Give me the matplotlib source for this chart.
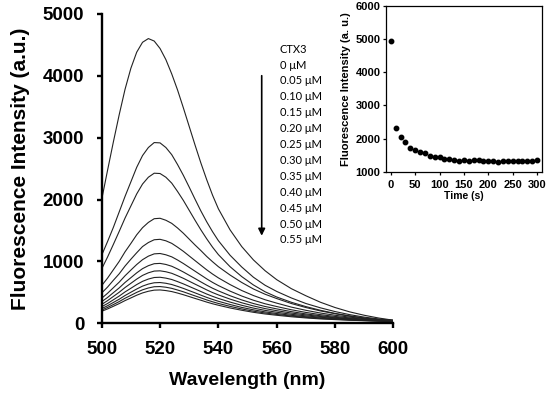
import numpy as np
import matplotlib
matplotlib.use("Agg")
import matplotlib.pyplot as plt

plt.rcParams["font.family"] = ["Liberation Sans", "DejaVu Sans"]

# emission spectra, one row per CTX3 concentration
wavelength = [500, 502, 504, 506, 508, 510, 512, 514, 516, 518, 520, 522,
              524, 526, 528, 530, 532, 534, 536, 538, 540, 544, 548, 552,
              556, 560, 565, 570, 575, 580, 585, 590, 595, 600]

conc_labels = ["0 μM", "0.05 μM", "0.10 μM", "0.15 μM", "0.20 μM", "0.25 μM",
               "0.30 μM", "0.35 μM", "0.40 μM", "0.45 μM", "0.50 μM", "0.55 μM"]

spectra = [
    [2000, 2470, 2930, 3370, 3780, 4120, 4380, 4540, 4600, 4560, 4440, 4260,
     4030, 3770, 3480, 3180, 2880, 2590, 2320, 2070, 1850, 1510, 1240, 1025,
     850, 705, 560, 445, 340, 255, 185, 130, 85, 50],
    [1100, 1320, 1550, 1800, 2050, 2285, 2520, 2710, 2840, 2920, 2915, 2840,
     2725, 2565, 2390, 2200, 2005, 1815, 1640, 1480, 1335, 1100, 910, 745,
     615, 515, 410, 320, 250, 190, 140, 100, 70, 50],
    [880, 1070, 1275, 1485, 1700, 1895, 2090, 2250, 2360, 2425, 2420, 2360,
     2265, 2130, 1985, 1825, 1665, 1510, 1365, 1230, 1110, 915, 755, 620,
     510, 425, 340, 270, 210, 160, 120, 85, 60, 45],
    [610, 730, 865, 1000, 1155, 1290, 1430, 1545, 1630, 1690, 1697, 1665,
     1615, 1540, 1455, 1360, 1265, 1175, 1080, 995, 915, 780, 660, 555,
     470, 400, 320, 255, 200, 155, 115, 85, 60, 45],
    [490, 585, 695, 800, 925, 1035, 1140, 1240, 1305, 1350, 1357, 1333,
     1292, 1230, 1163, 1088, 1013, 938, 864, 796, 734, 626, 530, 449,
     381, 326, 262, 210, 166, 130, 100, 75, 55, 42],
    [405, 485, 575, 665, 768, 860, 950, 1028, 1085, 1122, 1128, 1107,
     1074, 1023, 966, 904, 842, 780, 718, 661, 610, 520, 441, 373,
     316, 271, 219, 176, 140, 111, 87, 66, 50, 40],
    [350, 417, 495, 572, 660, 737, 815, 883, 931, 963, 968, 951,
     922, 878, 829, 776, 723, 669, 616, 567, 524, 446, 378, 320,
     272, 233, 189, 152, 122, 97, 77, 60, 46, 38],
    [305, 366, 434, 502, 578, 646, 714, 774, 816, 844, 848, 833,
     808, 769, 727, 680, 633, 587, 540, 497, 459, 391, 332, 281,
     238, 204, 166, 136, 110, 89, 71, 56, 44, 36],
    [268, 320, 380, 440, 507, 566, 626, 678, 715, 740, 744, 730,
     708, 674, 637, 596, 555, 514, 473, 436, 402, 343, 291, 246,
     209, 179, 146, 120, 98, 80, 65, 52, 42, 34],
    [238, 284, 337, 389, 449, 502, 554, 601, 634, 655, 659, 647,
     627, 597, 564, 528, 492, 455, 419, 386, 356, 304, 257, 218,
     185, 158, 129, 106, 87, 72, 59, 48, 39, 32],
    [215, 256, 303, 351, 405, 452, 500, 541, 571, 591, 594, 583,
     565, 538, 509, 476, 443, 411, 378, 348, 321, 274, 232, 196,
     167, 143, 117, 96, 79, 66, 54, 45, 37, 31],
    [195, 232, 275, 319, 367, 410, 454, 491, 518, 536, 539, 529,
     513, 489, 462, 432, 402, 373, 343, 316, 292, 248, 211, 178,
     151, 130, 106, 87, 71, 60, 50, 42, 35, 30],
]

# inset: intensity vs time
time_s = [0, 10, 20, 30, 40, 50, 60, 70, 80, 90, 100, 110, 120, 130, 140, 150,
          160, 170, 180, 190, 200, 210, 220, 230, 240, 250, 260, 270, 280, 290, 300]
time_intensity = [4930, 2320, 2060, 1900, 1720, 1640, 1590, 1560, 1470, 1440,
                  1450, 1390, 1390, 1350, 1330, 1340, 1330, 1340, 1360, 1310,
                  1320, 1320, 1300, 1320, 1330, 1330, 1320, 1320, 1320, 1320, 1350]

fig = plt.figure(figsize=(5.5, 3.97), dpi=100)

# main panel
ax = fig.add_axes([0.1849, 0.1856, 0.5304, 0.7796])
for row in spectra:
    ax.plot(wavelength, row, color="#222222", lw=0.8)
ax.set_xlim(500, 600)
ax.set_ylim(0, 5000)
ax.set_xticks(np.arange(500, 601, 20))
ax.set_yticks(np.arange(0, 5001, 1000))
for side in ["top", "right"]:
    ax.spines[side].set_visible(False)
for side in ["left", "bottom"]:
    ax.spines[side].set_linewidth(1.7)
ax.tick_params(direction="out", length=3.6, width=1.7, pad=9, labelsize=13.5)
for lab in ax.get_xticklabels() + ax.get_yticklabels():
    lab.set_fontweight("bold")
ax.set_xlabel("Wavelength (nm)", fontsize=14, fontweight="bold", labelpad=10)
ax.set_ylabel("Fluorescence Intensity (a.u.)", fontsize=15, fontweight="bold", labelpad=9)

# concentration list and arrow
ax.text(0.611, 0.886, "CTX3", transform=ax.transAxes, family=["Lato", "DejaVu Sans"],
        fontsize=8, ha="left", va="center")
for i, lab in enumerate(conc_labels):
    ax.text(0.611, 0.886 - 0.0514 * (i + 1), lab, transform=ax.transAxes,
            family=["Lato", "DejaVu Sans"], fontsize=8, ha="left", va="center")
ax.annotate("", xy=(0.5485, 0.274), xytext=(0.5485, 0.809), xycoords="axes fraction",
            arrowprops=dict(arrowstyle="-|>", color="black", lw=1.2, mutation_scale=10))

# inset panel
ins = fig.add_axes([0.7018, 0.5675, 0.2836, 0.4174])
ins.plot(time_s, time_intensity, "o", color="black", ms=3.2)
ins.set_xlim(-10, 310)
ins.set_ylim(1000, 6000)
ins.set_xticks(np.arange(0, 301, 50))
ins.set_yticks(np.arange(1000, 6001, 1000))
for side in ins.spines.values():
    side.set_linewidth(0.9)
ins.tick_params(direction="out", length=2, width=0.9, pad=2, labelsize=8)
ins.tick_params(axis="x", pad=4)
for lab in ins.get_xticklabels() + ins.get_yticklabels():
    lab.set_fontweight("bold")
ins.set_xlabel("Time (s)", fontsize=7.5, fontweight="bold", labelpad=1)
ins.set_ylabel("Fluorescence Intensity (a. u.)", fontsize=8, fontweight="bold", labelpad=3)

fig.savefig("out.png", dpi=100)
